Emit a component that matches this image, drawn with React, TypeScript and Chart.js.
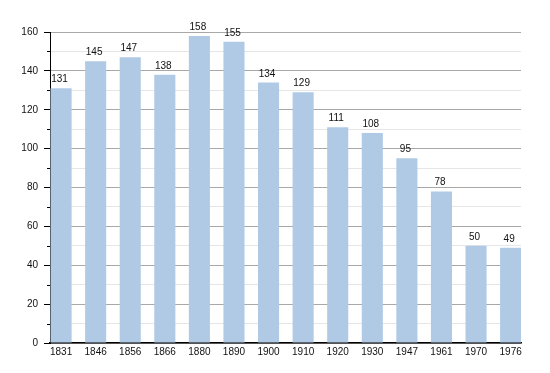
import React, { useEffect, useRef } from "react";
import { Chart, registerables } from "chart.js";

Chart.register(...registerables);

const years: string[] = ["1831", "1846", "1856", "1866", "1880", "1890", "1900", "1910", "1920", "1930", "1947", "1961", "1970", "1976"];
const population: number[] = [131, 145, 147, 138, 158, 155, 134, 129, 111, 108, 95, 78, 50, 49];
const yMin = 0;
const yMax = 160;
const yStep = 10;
const yLabelStep = 20;

const FONT = "'Liberation Sans', Arial, sans-serif";

const valueLabels = {
  id: "valueLabels",
  afterDatasetsDraw(chart: any) {
    const ctx = chart.ctx;
    const meta = chart.getDatasetMeta(0);
    ctx.save();
    ctx.font = `10px ${FONT}`;
    ctx.fillStyle = "#111";
    ctx.textAlign = "center";
    ctx.textBaseline = "alphabetic";
    meta.data.forEach((el: any, i: number) => {
      ctx.fillText(String(population[i]), el.x - 1.5, el.y - 6);
    });
    ctx.restore();
  },
};

const minorTicks = {
  id: "minorTicks",
  afterDraw(chart: any) {
    const y = chart.scales.y;
    const ctx = chart.ctx;
    const left = chart.chartArea.left;
    ctx.save();
    ctx.strokeStyle = "#000";
    ctx.lineWidth = 1;
    y.ticks.forEach((t: any) => {
      if (t.value % yLabelStep !== 0) {
        const py = Math.round(y.getPixelForValue(t.value)) + 0.5;
        ctx.beginPath();
        ctx.moveTo(left - 3, py);
        ctx.lineTo(left, py);
        ctx.stroke();
      }
    });
    ctx.restore();
  },
};

export default function App() {
  const ref = useRef<HTMLCanvasElement | null>(null);

  useEffect(() => {
    if (!ref.current) return;
    const chart = new Chart(ref.current, {
      type: "bar",
      data: {
        datasets: [
          {
            data: population.map((v, i) => ({ x: i, y: v })),
            backgroundColor: "rgb(176,202,230)",
            borderWidth: 0,
            categoryPercentage: 1,
            barPercentage: 0.61,
          },
        ],
      },
      plugins: [valueLabels, minorTicks],
      options: {
        animation: false,
        responsive: false,
        layout: { padding: { top: 32, right: 29, left: 0, bottom: 0 } },
        plugins: { legend: { display: false }, tooltip: { enabled: false }, title: { display: false } },
        scales: {
          x: {
            type: "linear",
            offset: false,
            min: -0.32,
            max: 13.3,
            afterBuildTicks: (scale: any) => {
              scale.ticks = years.map((_, i) => ({ value: i }));
            },
            afterFit: (scale: any) => {
              scale.height = 30;
            },
            grid: { display: false, drawTicks: false, offset: false },
            border: { display: true, color: "#000", width: 1.5 },
            ticks: {
              autoSkip: false,
              maxRotation: 0,
              padding: 3,
              color: "#111",
              font: { family: FONT, size: 10 },
              callback: (v: any) => years[v] ?? "",
            },
          },
          y: {
            min: yMin,
            max: yMax,
            afterFit: (scale: any) => {
              scale.width = 50;
            },
            grid: {
              color: (c: any) => (c.tick && c.tick.value % yLabelStep === 0 ? "#a8a8a8" : "#e6e6e6"),
              tickColor: (c: any) => (c.tick && c.tick.value % yLabelStep === 0 ? "#000" : "rgba(0,0,0,0)"),
              tickLength: 6,
              lineWidth: 1,
            },
            border: { display: true, color: "#000", width: 1 },
            ticks: {
              stepSize: yStep,
              autoSkip: false,
              padding: 6,
              color: "#111",
              font: { family: FONT, size: 10 },
              callback: (v: any) => (v % yLabelStep === 0 ? String(v) : ""),
            },
          },
        },
      },
    });
    return () => chart.destroy();
  }, []);

  return (
    <div style={{ position: "absolute", left: 0, top: 0, width: 550, height: 373, background: "#fff" }}>
      <canvas ref={ref} width={550} height={373} />
    </div>
  );
}
